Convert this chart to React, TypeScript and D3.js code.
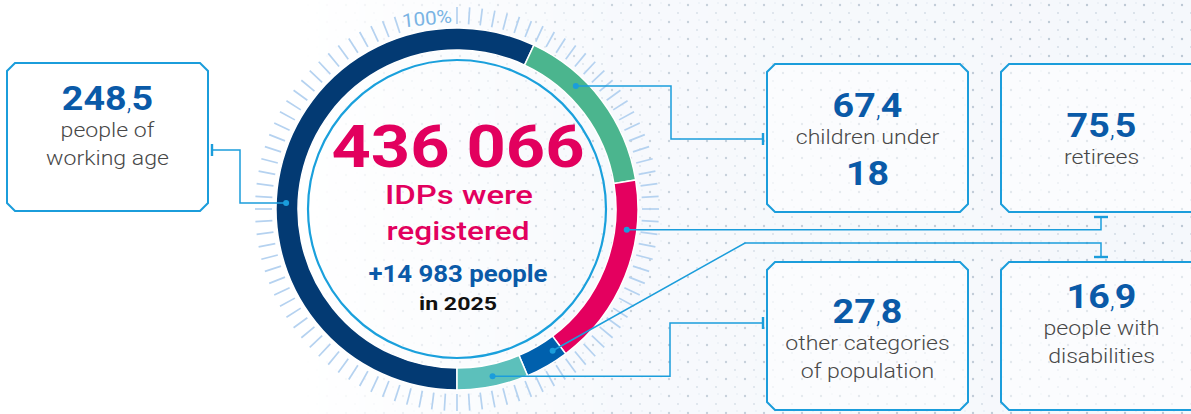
import React from "react";
import * as d3 from "d3";

// IDP categories, thousands of people (same order as the ring, clockwise from 6 o'clock)
const categories = [
  "people of working age",
  "children under 18",
  "retirees",
  "people with disabilities",
  "other categories of population",
];
const values = [248.5, 67.4, 75.5, 16.9, 27.8];
const valueLabels = ["248,5", "67,4", "75,5", "16,9", "27,8"];
const labelLines = [
  ["people of", "working age"],
  ["children under", "18"],
  ["retirees"],
  ["people with", "disabilities"],
  ["other categories", "of population"],
];
const totalLabel = "436 066";
const headline = ["IDPs were", "registered"];
const growthLabel = "+14 983 people";
const yearLabel = "in 2025";
const fullLabel = "100%";

const colors = ["#033a73", "#4bb58e", "#e4005f", "#0060ad", "#5cc0bb"];
const lineColor = "#1b9ddb";
const numColor = "#0a5aa8";
const grayText = "#484848";
const pink = "#e2005e";

const W = 1191;
const H = 414;
const cx = 457;
const cy = 209;
const rOuter = 181;
const rInner = 159;
const rThin = 149;
const rDot = 171;
const tickCount = 100;
const tickIn = 185;
const tickOut = 202;

const boxW = 201;
const boxH = 148;
const chamfer = 8;

// box layout, same order as categories
const boxes = [
  { x: 7, y: 63, numY: 47, anchor: 272, route: [[240, null], [240, 150], [212, 150]], tick: "v" },
  { x: 767, y: 64, numY: 53, anchor: 44, route: [[671, null], [671, 139], [763, 139]], tick: "v" },
  { x: 1001, y: 64, numY: 73, anchor: 97, route: [[1101, null], [1101, 217]], tick: "h" },
  { x: 1001, y: 262, numY: 46, anchor: 146, route: [[745, 243], [1101, 243], [1101, 257]], tick: "h" },
  { x: 767, y: 262, numY: 61, anchor: 168, route: [[670, null], [670, 323], [763, 323]], tick: "v" },
];

const boxPath = (x: number, y: number) => {
  const c = chamfer;
  return `M${x + c},${y}H${x + boxW - c}L${x + boxW},${y + c}V${y + boxH - c}L${x + boxW - c},${y + boxH}H${x + c}L${x},${y + boxH - c}V${y + c}Z`;
};

const polar = (deg: number, r: number) => {
  const a = (deg * Math.PI) / 180;
  return [cx + r * Math.sin(a), cy - r * Math.cos(a)];
};

function NumberLabel({ x, y, label }: { x: number; y: number; label: string }) {
  const [a, b] = label.split(",");
  return (
    <text
      transform={`translate(${x},${y}) scale(1.14,1)`}
      textAnchor="middle"
      fontFamily="Roboto, sans-serif"
      fontWeight={700}
      fontSize={33}
      fill={numColor}
    >
      {a}
      {b !== undefined && (
        <>
          <tspan fontWeight={300} fontSize={23}>,</tspan>
          {b}
        </>
      )}
    </text>
  );
}

export default function App() {
  const pie = d3
    .pie<number>()
    .sort(null)
    .startAngle(Math.PI)
    .endAngle(3 * Math.PI)
    .value((d) => d);
  const arcs = pie(values);
  const arc = d3.arc<d3.PieArcDatum<number>>().innerRadius(rInner).outerRadius(rOuter);

  const ticks = d3.range(tickCount).map((i) => (i * 360) / tickCount);

  return (
    <div style={{ position: "absolute", left: 0, top: 0 }}>
      <svg width={W} height={H} style={{ display: "block" }}>
        <defs>
          <pattern id="dots" width="19" height="17" patternUnits="userSpaceOnUse">
            <circle cx="4" cy="5" r="1.2" fill="#bcc8d4" />
            <circle cx="13" cy="13" r="0.9" fill="#cdd7e2" />
            <circle cx="15" cy="3" r="0.7" fill="#d8e0ea" />
          </pattern>
          <linearGradient id="fade" x1="0" x2="1" y1="0" y2="0">
            <stop offset="0" stopColor="#fff" stopOpacity="0" />
            <stop offset="0.35" stopColor="#fff" stopOpacity="0.8" />
            <stop offset="1" stopColor="#fff" stopOpacity="1" />
          </linearGradient>
          <mask id="fadeMask">
            <rect x={300} y={0} width={W - 300} height={H} fill="url(#fade)" />
          </mask>
        </defs>
        <rect width={W} height={H} fill="#fff" />
        <g mask="url(#fadeMask)">
          <rect x={300} y={0} width={W - 300} height={H} fill="#f5f8fc" />
          <rect x={300} y={0} width={W - 300} height={H} fill="url(#dots)" />
        </g>

        {/* outer ticks */}
        <g stroke="#b5d2f0" strokeWidth={1.7}>
          {ticks
            .filter((t) => t < 345 || t > 359)
            .map((t) => {
              const [x1, y1] = polar(t, tickIn);
              const [x2, y2] = polar(t, tickOut);
              return <line key={t} x1={x1} y1={y1} x2={x2} y2={y2} />;
            })}
        </g>
        <text
          x={427}
          y={25}
          textAnchor="middle"
          fontFamily="Roboto, sans-serif"
          fontSize={19}
          fill="#7ab4e4"
          textLength={50}
          lengthAdjust="spacingAndGlyphs"
          transform="rotate(-6 427 20)"
        >
          {fullLabel}
        </text>

        {/* ring */}
        <g>
          {arcs.map((a, i) => (
            <path key={categories[i]} d={arc(a) || ""} transform={`translate(${cx},${cy})`} fill={colors[i]} stroke="#fff" strokeWidth={1.5} />
          ))}
        </g>
        <circle cx={cx} cy={cy} r={rThin} fill="none" stroke="#1aa0dc" strokeWidth={2.2} />

        {/* connectors */}
        <g fill="none" stroke={lineColor} strokeWidth={1.5}>
          {boxes.map((b, i) => {
            const [dx, dy] = polar(b.anchor, rDot);
            const pts: [number, number][] = [[dx, dy]];
            b.route.forEach(([px, py]) => pts.push([px as number, py === null ? dy : (py as number)]));
            const end = pts[pts.length - 1];
            const tick =
              b.tick === "v"
                ? `M${end[0]},${end[1] - 6}V${end[1] + 6}`
                : `M${end[0] - 7},${end[1]}H${end[0] + 7}`;
            return (
              <g key={categories[i]}>
                <path d={d3.line()(pts) || ""} />
                <path d={tick} strokeWidth={2.4} />
                <circle cx={dx} cy={dy} r={3} fill={lineColor} stroke="none" />
              </g>
            );
          })}
        </g>

        {/* boxes */}
        {boxes.map((b, i) => {
          const mid = b.x + boxW / 2;
          let y = b.y + b.numY;
          const rows: React.ReactNode[] = [];
          labelLines[i].forEach((t, j) => {
            const bold = /^\d+$/.test(t);
            y += bold ? 41 : j === 0 ? 27 : 28;
            rows.push(
              bold ? (
                <NumberLabel key={t} x={mid} y={y} label={t} />
              ) : (
                <text
                  key={t}
                  transform={`translate(${mid},${y}) scale(1.1,1)`}
                  textAnchor="middle"
                  fontFamily="Roboto, sans-serif"
                  fontWeight={300}
                  fontSize={21}
                  fill={grayText}
                >
                  {t}
                </text>
              )
            );
          });
          return (
            <g key={categories[i]}>
              <path d={boxPath(b.x, b.y)} fill="#fff" fillOpacity={0.55} stroke={lineColor} strokeWidth={2} />
              <NumberLabel x={mid} y={b.y + b.numY} label={valueLabels[i]} />
              {rows}
            </g>
          );
        })}

        {/* centre */}
        <g fontFamily="Roboto, sans-serif" textAnchor="middle">
          <text x={458} y={167} fontSize={59} fontWeight={700} fill={pink} textLength={253} lengthAdjust="spacingAndGlyphs">
            {totalLabel}
          </text>
          <text x={459} y={204} fontSize={26} fontWeight={500} fill={pink} textLength={148} lengthAdjust="spacingAndGlyphs">
            {headline[0]}
          </text>
          <text x={458} y={240} fontSize={26} fontWeight={500} fill={pink} textLength={143} lengthAdjust="spacingAndGlyphs">
            {headline[1]}
          </text>
          <text x={458} y={282} fontSize={23} fontWeight={700} fill={numColor} textLength={179} lengthAdjust="spacingAndGlyphs">
            {growthLabel}
          </text>
          <text x={458} y={310} fontSize={19} fontWeight={700} fill="#111" textLength={78} lengthAdjust="spacingAndGlyphs">
            {yearLabel}
          </text>
        </g>
      </svg>
    </div>
  );
}
